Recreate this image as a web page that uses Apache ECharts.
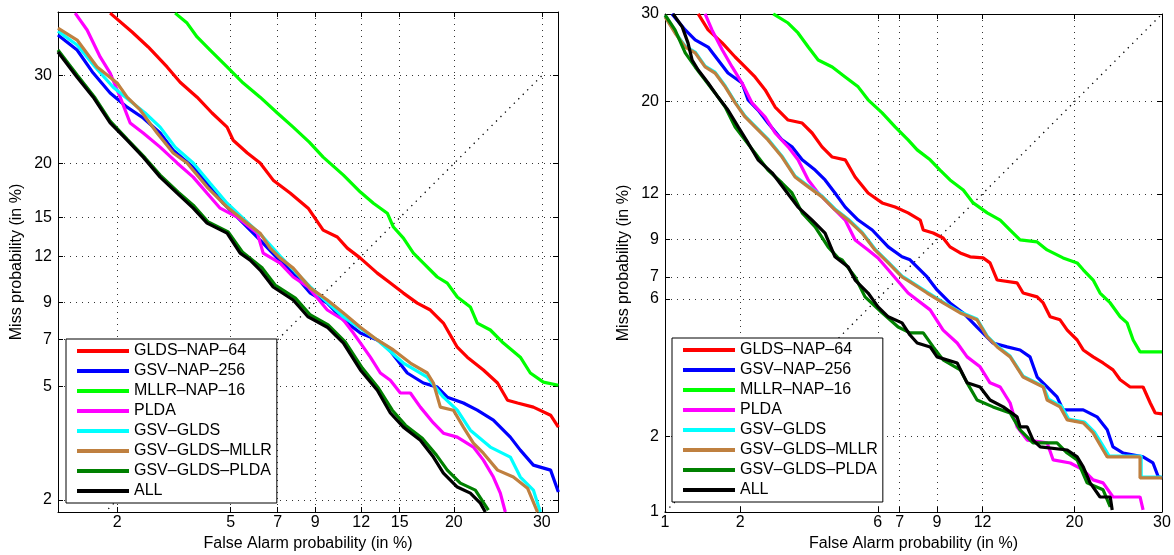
<!DOCTYPE html>
<html>
<head>
<meta charset="utf-8">
<script src="https://cdn.jsdelivr.net/npm/echarts@6/dist/echarts.min.js"></script>
<style>
  html, body { margin: 0; padding: 0; background: #fff; }
  #main { width: 1174px; height: 555px; }
</style>
</head>
<body>
<div id="main"></div>
<script>
// DET curves. Every point is [false alarm, miss] as a standard normal deviate
// (probit of the probability), which is what the DET axes are linear in.
const names = ['GLDS–NAP–64', 'GSV–NAP–256', 'MLLR–NAP–16', 'PLDA', 'GSV–GLDS', 'GSV–GLDS–MLLR', 'GSV–GLDS–PLDA', 'ALL'];
const colors = ['#ff0000', '#0000ff', '#00ff00', '#ff00ff', '#00ffff', '#bf8040', '#008000', '#000000'];

// tick labels (in %)
const leftXTicks = [2, 5, 7, 9, 12, 15, 20, 30];
const leftYTicks = [2, 5, 7, 9, 12, 15, 20, 30];
const rightXTicks = [1, 2, 6, 7, 9, 12, 20, 30];
const rightYTicks = [1, 2, 6, 7, 9, 12, 20, 30];

// axis limits (in %)
const leftXLim = [1.17, 32.05];
const leftYLim = [1.80, 38.4];
const rightXLim = [1, 30];
const rightYLim = [1, 30];

// ---- left panel ----
const leftGldsNap64 = [[-2.079,-0.299],[-2.000,-0.367],[-1.942,-0.421],[-1.874,-0.493],[-1.827,-0.548],[-1.766,-0.602],[-1.712,-0.659],[-1.658,-0.710],[-1.636,-0.757],[-1.585,-0.803],[-1.539,-0.839],[-1.492,-0.901],[-1.430,-0.948],[-1.366,-1.002],[-1.312,-1.081],[-1.261,-1.106],[-1.225,-1.146],[-1.178,-1.182],[-1.117,-1.236],[-1.070,-1.272],[-1.023,-1.308],[-0.973,-1.344],[-0.926,-1.369],[-0.879,-1.416],[-0.829,-1.503],[-0.793,-1.539],[-0.735,-1.585],[-0.684,-1.632],[-0.648,-1.694],[-0.612,-1.704],[-0.555,-1.719],[-0.493,-1.748],[-0.465,-1.791]];
const leftGsvNap256 = [[-2.267,-0.378],[-2.198,-0.432],[-2.140,-0.515],[-2.079,-0.587],[-2.018,-0.638],[-1.960,-0.677],[-1.899,-0.731],[-1.852,-0.793],[-1.780,-0.854],[-1.730,-0.912],[-1.672,-0.984],[-1.600,-1.056],[-1.539,-1.117],[-1.477,-1.182],[-1.430,-1.225],[-1.358,-1.308],[-1.297,-1.344],[-1.239,-1.405],[-1.178,-1.452],[-1.117,-1.477],[-1.081,-1.503],[-1.045,-1.549],[-1.009,-1.596],[-0.951,-1.632],[-0.901,-1.647],[-0.865,-1.683],[-0.807,-1.704],[-0.757,-1.730],[-0.699,-1.766],[-0.638,-1.827],[-0.602,-1.874],[-0.555,-1.928],[-0.493,-1.946],[-0.465,-2.025]];
const leftMllrNap16 = [[-1.845,-0.299],[-1.802,-0.335],[-1.766,-0.385],[-1.719,-0.432],[-1.658,-0.493],[-1.600,-0.551],[-1.539,-0.602],[-1.477,-0.659],[-1.420,-0.710],[-1.362,-0.764],[-1.312,-0.818],[-1.239,-0.883],[-1.178,-0.944],[-1.131,-0.984],[-1.081,-1.020],[-1.059,-1.070],[-1.023,-1.110],[-0.987,-1.164],[-0.951,-1.200],[-0.901,-1.250],[-0.865,-1.272],[-0.829,-1.322],[-0.782,-1.358],[-0.757,-1.416],[-0.710,-1.441],[-0.663,-1.488],[-0.602,-1.539],[-0.566,-1.596],[-0.519,-1.629],[-0.465,-1.640]];
const leftPlda = [[-2.205,-0.299],[-2.162,-0.360],[-2.115,-0.457],[-2.079,-0.515],[-2.043,-0.602],[-2.007,-0.695],[-1.960,-0.731],[-1.899,-0.782],[-1.838,-0.839],[-1.780,-0.890],[-1.730,-0.948],[-1.683,-1.002],[-1.622,-1.034],[-1.549,-1.092],[-1.528,-1.164],[-1.467,-1.200],[-1.420,-1.250],[-1.366,-1.286],[-1.297,-1.369],[-1.239,-1.405],[-1.203,-1.452],[-1.142,-1.539],[-1.106,-1.596],[-1.070,-1.622],[-1.034,-1.668],[-0.998,-1.668],[-0.962,-1.719],[-0.915,-1.776],[-0.879,-1.813],[-0.829,-1.827],[-0.771,-1.863],[-0.735,-1.910],[-0.699,-1.971],[-0.674,-2.029],[-0.656,-2.097]];
const leftGsvGlds = [[-2.267,-0.364],[-2.198,-0.414],[-2.133,-0.493],[-2.068,-0.566],[-2.007,-0.616],[-1.953,-0.659],[-1.899,-0.710],[-1.845,-0.782],[-1.780,-0.839],[-1.719,-0.912],[-1.658,-0.984],[-1.593,-1.045],[-1.531,-1.103],[-1.467,-1.175],[-1.412,-1.232],[-1.358,-1.286],[-1.239,-1.394],[-1.117,-1.477],[-1.023,-1.560],[-0.937,-1.611],[-0.879,-1.683],[-0.829,-1.730],[-0.782,-1.802],[-0.710,-1.863],[-0.638,-1.899],[-0.602,-1.971],[-0.555,-2.018],[-0.530,-2.097]];
const leftGsvGldsMllr = [[-2.267,-0.353],[-2.198,-0.396],[-2.126,-0.493],[-2.054,-0.551],[-2.018,-0.602],[-1.971,-0.648],[-1.910,-0.731],[-1.852,-0.803],[-1.802,-0.839],[-1.730,-0.926],[-1.658,-0.998],[-1.600,-1.045],[-1.539,-1.092],[-1.503,-1.146],[-1.467,-1.182],[-1.420,-1.218],[-1.358,-1.290],[-1.297,-1.333],[-1.239,-1.380],[-1.178,-1.431],[-1.117,-1.477],[-1.059,-1.513],[-0.998,-1.560],[-0.937,-1.596],[-0.915,-1.632],[-0.890,-1.719],[-0.843,-1.730],[-0.807,-1.791],[-0.771,-1.849],[-0.735,-1.885],[-0.684,-1.946],[-0.627,-1.971],[-0.576,-2.011],[-0.540,-2.097]];
const leftGsvGldsPlda = [[-2.267,-0.432],[-2.198,-0.522],[-2.133,-0.605],[-2.079,-0.688],[-2.018,-0.753],[-1.953,-0.821],[-1.899,-0.883],[-1.834,-0.944],[-1.780,-0.991],[-1.726,-1.052],[-1.654,-1.088],[-1.603,-1.160],[-1.531,-1.218],[-1.485,-1.279],[-1.412,-1.326],[-1.358,-1.387],[-1.294,-1.423],[-1.232,-1.485],[-1.171,-1.578],[-1.113,-1.650],[-1.063,-1.730],[-1.016,-1.784],[-0.955,-1.831],[-0.904,-1.892],[-0.865,-1.946],[-0.818,-1.993],[-0.764,-2.018],[-0.717,-2.090]];
const leftAll = [[-2.267,-0.439],[-2.198,-0.530],[-2.140,-0.602],[-2.079,-0.695],[-2.018,-0.757],[-1.960,-0.818],[-1.899,-0.890],[-1.838,-0.948],[-1.780,-1.002],[-1.730,-1.056],[-1.658,-1.092],[-1.611,-1.164],[-1.575,-1.189],[-1.539,-1.225],[-1.492,-1.286],[-1.420,-1.333],[-1.366,-1.394],[-1.297,-1.431],[-1.239,-1.488],[-1.178,-1.585],[-1.117,-1.658],[-1.070,-1.740],[-1.023,-1.791],[-0.962,-1.838],[-0.915,-1.899],[-0.879,-1.957],[-0.829,-2.007],[-0.782,-2.029],[-0.746,-2.065],[-0.728,-2.097]];

// ---- right panel ----
const rightGldsNap64 = [[-2.206,-0.524],[-2.170,-0.582],[-2.119,-0.629],[-2.072,-0.680],[-2.036,-0.716],[-2.000,-0.752],[-1.963,-0.799],[-1.927,-0.861],[-1.880,-0.908],[-1.829,-0.919],[-1.793,-0.955],[-1.757,-1.005],[-1.720,-1.042],[-1.673,-1.052],[-1.637,-1.114],[-1.590,-1.172],[-1.539,-1.208],[-1.492,-1.223],[-1.445,-1.244],[-1.401,-1.270],[-1.390,-1.306],[-1.354,-1.317],[-1.318,-1.335],[-1.293,-1.367],[-1.256,-1.389],[-1.220,-1.403],[-1.173,-1.407],[-1.148,-1.425],[-1.122,-1.487],[-1.050,-1.497],[-1.028,-1.534],[-0.977,-1.548],[-0.955,-1.570],[-0.930,-1.620],[-0.894,-1.631],[-0.868,-1.668],[-0.832,-1.704],[-0.810,-1.740],[-0.774,-1.765],[-0.738,-1.787],[-0.702,-1.812],[-0.676,-1.848],[-0.640,-1.874],[-0.593,-1.874],[-0.567,-1.932],[-0.549,-1.968],[-0.524,-1.971]];
const rightGsvNap256 = [[-2.301,-0.524],[-2.253,-0.582],[-2.217,-0.618],[-2.170,-0.644],[-2.134,-0.691],[-2.098,-0.738],[-2.047,-0.774],[-2.025,-0.835],[-1.989,-0.872],[-1.953,-0.919],[-1.902,-0.980],[-1.866,-1.005],[-1.829,-1.052],[-1.782,-1.089],[-1.746,-1.125],[-1.710,-1.172],[-1.673,-1.223],[-1.626,-1.270],[-1.575,-1.306],[-1.517,-1.367],[-1.467,-1.403],[-1.438,-1.414],[-1.376,-1.476],[-1.340,-1.523],[-1.293,-1.570],[-1.245,-1.606],[-1.195,-1.657],[-1.137,-1.715],[-1.086,-1.729],[-1.039,-1.740],[-1.003,-1.765],[-0.977,-1.838],[-0.941,-1.874],[-0.905,-1.910],[-0.883,-1.957],[-0.810,-1.957],[-0.760,-1.982],[-0.723,-2.029],[-0.702,-2.091],[-0.665,-2.113],[-0.593,-2.127],[-0.557,-2.149],[-0.538,-2.199],[-0.524,-2.203]];
const rightMllrNap16 = [[-1.934,-0.524],[-1.880,-0.557],[-1.844,-0.593],[-1.807,-0.644],[-1.771,-0.691],[-1.720,-0.716],[-1.673,-0.752],[-1.626,-0.788],[-1.590,-0.835],[-1.539,-0.882],[-1.492,-0.933],[-1.445,-0.980],[-1.412,-1.016],[-1.365,-1.052],[-1.329,-1.089],[-1.293,-1.125],[-1.245,-1.161],[-1.209,-1.208],[-1.158,-1.244],[-1.111,-1.270],[-1.075,-1.306],[-1.039,-1.342],[-0.977,-1.349],[-0.941,-1.378],[-0.883,-1.407],[-0.832,-1.425],[-0.810,-1.450],[-0.774,-1.487],[-0.749,-1.534],[-0.712,-1.570],[-0.676,-1.620],[-0.651,-1.642],[-0.629,-1.704],[-0.604,-1.747],[-0.524,-1.747]];
const rightPlda = [[-2.181,-0.524],[-2.156,-0.582],[-2.119,-0.654],[-2.083,-0.716],[-2.047,-0.774],[-2.011,-0.846],[-1.963,-0.897],[-1.927,-0.955],[-1.880,-1.005],[-1.844,-1.052],[-1.807,-1.125],[-1.771,-1.172],[-1.720,-1.223],[-1.673,-1.270],[-1.637,-1.342],[-1.590,-1.378],[-1.554,-1.407],[-1.517,-1.450],[-1.445,-1.534],[-1.365,-1.595],[-1.318,-1.668],[-1.267,-1.715],[-1.231,-1.765],[-1.184,-1.801],[-1.148,-1.859],[-1.111,-1.874],[-1.075,-1.932],[-1.050,-2.018],[-1.013,-2.066],[-0.941,-2.076],[-0.919,-2.138],[-0.857,-2.149],[-0.810,-2.174],[-0.774,-2.210],[-0.738,-2.221],[-0.702,-2.272],[-0.604,-2.272],[-0.593,-2.319]];
const rightGsvGlds = [[-2.326,-0.530],[-2.290,-0.590],[-2.253,-0.641],[-2.217,-0.662],[-2.181,-0.713],[-2.145,-0.735],[-2.108,-0.785],[-2.072,-0.843],[-2.036,-0.894],[-2.000,-0.930],[-1.953,-0.977],[-1.902,-1.039],[-1.855,-1.111],[-1.807,-1.147],[-1.757,-1.183],[-1.710,-1.230],[-1.662,-1.267],[-1.612,-1.314],[-1.565,-1.375],[-1.517,-1.422],[-1.467,-1.473],[-1.438,-1.491],[-1.376,-1.531],[-1.318,-1.567],[-1.256,-1.603],[-1.195,-1.628],[-1.158,-1.690],[-1.122,-1.726],[-1.075,-1.762],[-1.028,-1.835],[-0.955,-1.871],[-0.936,-1.918],[-0.889,-1.943],[-0.863,-1.990],[-0.805,-2.001],[-0.769,-2.037],[-0.731,-2.099],[-0.716,-2.124],[-0.600,-2.124],[-0.600,-2.200],[-0.524,-2.200]];
const rightGsvGldsMllr = [[-2.326,-0.535],[-2.290,-0.593],[-2.253,-0.644],[-2.217,-0.665],[-2.181,-0.716],[-2.145,-0.738],[-2.108,-0.788],[-2.072,-0.846],[-2.036,-0.897],[-2.000,-0.933],[-1.953,-0.980],[-1.902,-1.042],[-1.855,-1.114],[-1.807,-1.150],[-1.757,-1.186],[-1.710,-1.233],[-1.662,-1.270],[-1.612,-1.317],[-1.565,-1.378],[-1.517,-1.425],[-1.467,-1.476],[-1.438,-1.494],[-1.376,-1.534],[-1.318,-1.570],[-1.256,-1.606],[-1.195,-1.631],[-1.158,-1.693],[-1.122,-1.729],[-1.075,-1.765],[-1.028,-1.838],[-0.955,-1.874],[-0.941,-1.921],[-0.894,-1.946],[-0.868,-1.993],[-0.810,-2.004],[-0.774,-2.040],[-0.738,-2.102],[-0.723,-2.127],[-0.604,-2.127],[-0.604,-2.203],[-0.524,-2.203]];
const rightGsvGldsPlda = [[-2.326,-0.528],[-2.290,-0.582],[-2.253,-0.665],[-2.217,-0.716],[-2.181,-0.763],[-2.145,-0.810],[-2.108,-0.861],[-2.072,-0.933],[-2.036,-0.980],[-1.989,-1.042],[-1.953,-1.089],[-1.902,-1.136],[-1.866,-1.172],[-1.829,-1.244],[-1.782,-1.295],[-1.735,-1.367],[-1.699,-1.407],[-1.684,-1.414],[-1.637,-1.476],[-1.601,-1.548],[-1.539,-1.606],[-1.481,-1.657],[-1.438,-1.678],[-1.390,-1.678],[-1.354,-1.729],[-1.318,-1.776],[-1.256,-1.812],[-1.231,-1.859],[-1.195,-1.921],[-1.137,-1.946],[-1.075,-1.968],[-1.039,-2.029],[-0.992,-2.076],[-0.905,-2.076],[-0.868,-2.113],[-0.832,-2.138],[-0.796,-2.221],[-0.738,-2.246],[-0.712,-2.308]];
const rightAll = [[-2.297,-0.524],[-2.264,-0.571],[-2.243,-0.629],[-2.228,-0.691],[-2.206,-0.727],[-2.170,-0.774],[-2.134,-0.825],[-2.098,-0.872],[-2.061,-0.933],[-2.025,-0.991],[-1.989,-1.052],[-1.938,-1.099],[-1.891,-1.161],[-1.844,-1.223],[-1.793,-1.270],[-1.746,-1.317],[-1.710,-1.403],[-1.662,-1.440],[-1.637,-1.487],[-1.590,-1.534],[-1.554,-1.584],[-1.517,-1.620],[-1.467,-1.642],[-1.438,-1.686],[-1.412,-1.715],[-1.365,-1.729],[-1.340,-1.765],[-1.267,-1.787],[-1.231,-1.859],[-1.184,-1.874],[-1.148,-1.921],[-1.100,-1.946],[-1.050,-1.982],[-1.039,-2.018],[-1.013,-2.018],[-0.992,-2.066],[-0.966,-2.091],[-0.868,-2.102],[-0.832,-2.127],[-0.810,-2.163],[-0.785,-2.221],[-0.749,-2.272],[-0.712,-2.272],[-0.705,-2.319]];

const leftCurves = [leftGldsNap64, leftGsvNap256, leftMllrNap16, leftPlda, leftGsvGlds, leftGsvGldsMllr, leftGsvGldsPlda, leftAll];
const rightCurves = [rightGldsNap64, rightGsvNap256, rightMllrNap16, rightPlda, rightGsvGlds, rightGsvGldsMllr, rightGsvGldsPlda, rightAll];

// chance line FA = Miss, from 1% to 30%
const diagonal = [[1, 1], [30, 30]];

const FONT = '"Liberation Sans", Arial, Helvetica, sans-serif';

// inverse of the standard normal CDF (Acklam)
function probit(p) {
    const a = [-3.969683028665376e+01, 2.209460984245205e+02, -2.759285104469687e+02, 1.383577518672690e+02, -3.066479806614716e+01, 2.506628277459239e+00];
    const b = [-5.447609879822406e+01, 1.615858368580409e+02, -1.556989798598866e+02, 6.680131188771972e+01, -1.328068155288572e+01];
    const c = [-7.784894002430293e-03, -3.223964580411365e-01, -2.400758277161838e+00, -2.549732539343734e+00, 4.374664141464968e+00, 2.938163982698783e+00];
    const d = [7.784695709041462e-03, 3.224671290700398e-01, 2.445134137142996e+00, 3.754408661907416e+00];
    const plow = 0.02425;
    let q, r;
    if (p < plow) {
        q = Math.sqrt(-2 * Math.log(p));
        return (((((c[0]*q+c[1])*q+c[2])*q+c[3])*q+c[4])*q+c[5]) / ((((d[0]*q+d[1])*q+d[2])*q+d[3])*q+1);
    }
    if (p <= 1 - plow) {
        q = p - 0.5; r = q * q;
        return (((((a[0]*r+a[1])*r+a[2])*r+a[3])*r+a[4])*r+a[5])*q / (((((b[0]*r+b[1])*r+b[2])*r+b[3])*r+b[4])*r+1);
    }
    q = Math.sqrt(-2 * Math.log(1 - p));
    return -(((((c[0]*q+c[1])*q+c[2])*q+c[3])*q+c[4])*q+c[5]) / ((((d[0]*q+d[1])*q+d[2])*q+d[3])*q+1);
}

function labelFor(v, ticks) {
    for (const t of ticks) {
        if (Math.abs(probit(t / 100) - v) < 1e-6) return String(t);
    }
    return '';
}

// one axis of a panel; the "mirror" copy only carries the inward ticks of the box
function makeAxis(dim, grid, lim, ticks, mirror) {
    const vals = ticks.map(t => probit(t / 100));
    const isX = dim === 'x';
    return {
        type: 'value',
        gridIndex: grid,
        position: isX ? (mirror ? 'top' : 'bottom') : (mirror ? 'right' : 'left'),
        min: probit(lim[0] / 100),
        max: probit(lim[1] / 100),
        axisLine: { show: true, onZero: false, lineStyle: { color: '#000', width: 1 } },
        axisTick: { show: true, inside: true, length: 5, customValues: vals, lineStyle: { color: '#000', width: 1 } },
        axisLabel: {
            show: !mirror, customValues: vals, margin: isX ? 3 : 6,
            color: '#000', fontSize: 16, fontFamily: FONT,
            formatter: v => labelFor(v, ticks)
        },
        splitLine: { show: !mirror, lineStyle: { type: [1, 5], color: '#333', width: 1 } },
        name: mirror ? '' : (isX ? 'False Alarm probability (in %)' : 'Miss probability (in %)'),
        nameLocation: 'middle',
        nameGap: isX ? 24 : 33,
        nameTextStyle: { color: '#000', fontSize: 16, fontFamily: FONT }
    };
}

function legendAt(left, top) {
    return {
        left: left, top: top, orient: 'vertical', data: names,
        icon: 'rect', itemWidth: 52, itemHeight: 4, itemGap: 0,
        padding: [2, 5, 2, 11],
        backgroundColor: '#fff', borderColor: '#000', borderWidth: 1,
        selectedMode: false,
        textStyle: { fontSize: 16, fontFamily: FONT, color: '#000', lineHeight: 20 }
    };
}

let series = [];
[leftCurves, rightCurves].forEach(function (curves, g) {
    series.push({
        name: 'chance', type: 'line', xAxisIndex: g * 2, yAxisIndex: g * 2,
        data: diagonal.map(p => [probit(p[0] / 100), probit(p[1] / 100)]),
        symbol: 'none', silent: true, animation: false,
        lineStyle: { color: '#000', width: 1.3, type: [1.3, 5] }
    });
    curves.forEach(function (data, i) {
        series.push({
            name: names[i], type: 'line', xAxisIndex: g * 2, yAxisIndex: g * 2,
            data: data, symbol: 'none', showSymbol: false, silent: true, animation: false,
            color: colors[i],
            lineStyle: { color: colors[i], width: 3.2 }
        });
    });
});

const chart = echarts.init(document.getElementById('main'), null, { renderer: 'canvas' });
const option = {
    backgroundColor: '#fff',
    animation: false,
    grid: [
        { left: 58, top: 12, width: 500, height: 500, outerBoundsMode: 'none', containLabel: false },
        { left: 665, top: 14, width: 497, height: 498, outerBoundsMode: 'none', containLabel: false }
    ],
    xAxis: [
        makeAxis('x', 0, leftXLim, leftXTicks, false),
        makeAxis('x', 0, leftXLim, leftXTicks, true),
        makeAxis('x', 1, rightXLim, rightXTicks, false),
        makeAxis('x', 1, rightXLim, rightXTicks, true)
    ],
    yAxis: [
        makeAxis('y', 0, leftYLim, leftYTicks, false),
        makeAxis('y', 0, leftYLim, leftYTicks, true),
        makeAxis('y', 1, rightYLim, rightYTicks, false),
        makeAxis('y', 1, rightYLim, rightYTicks, true)
    ],
    legend: [legendAt(66, 339), legendAt(672, 338)],
    series: series
};
chart.setOption(option);
</script>
</body>
</html>
